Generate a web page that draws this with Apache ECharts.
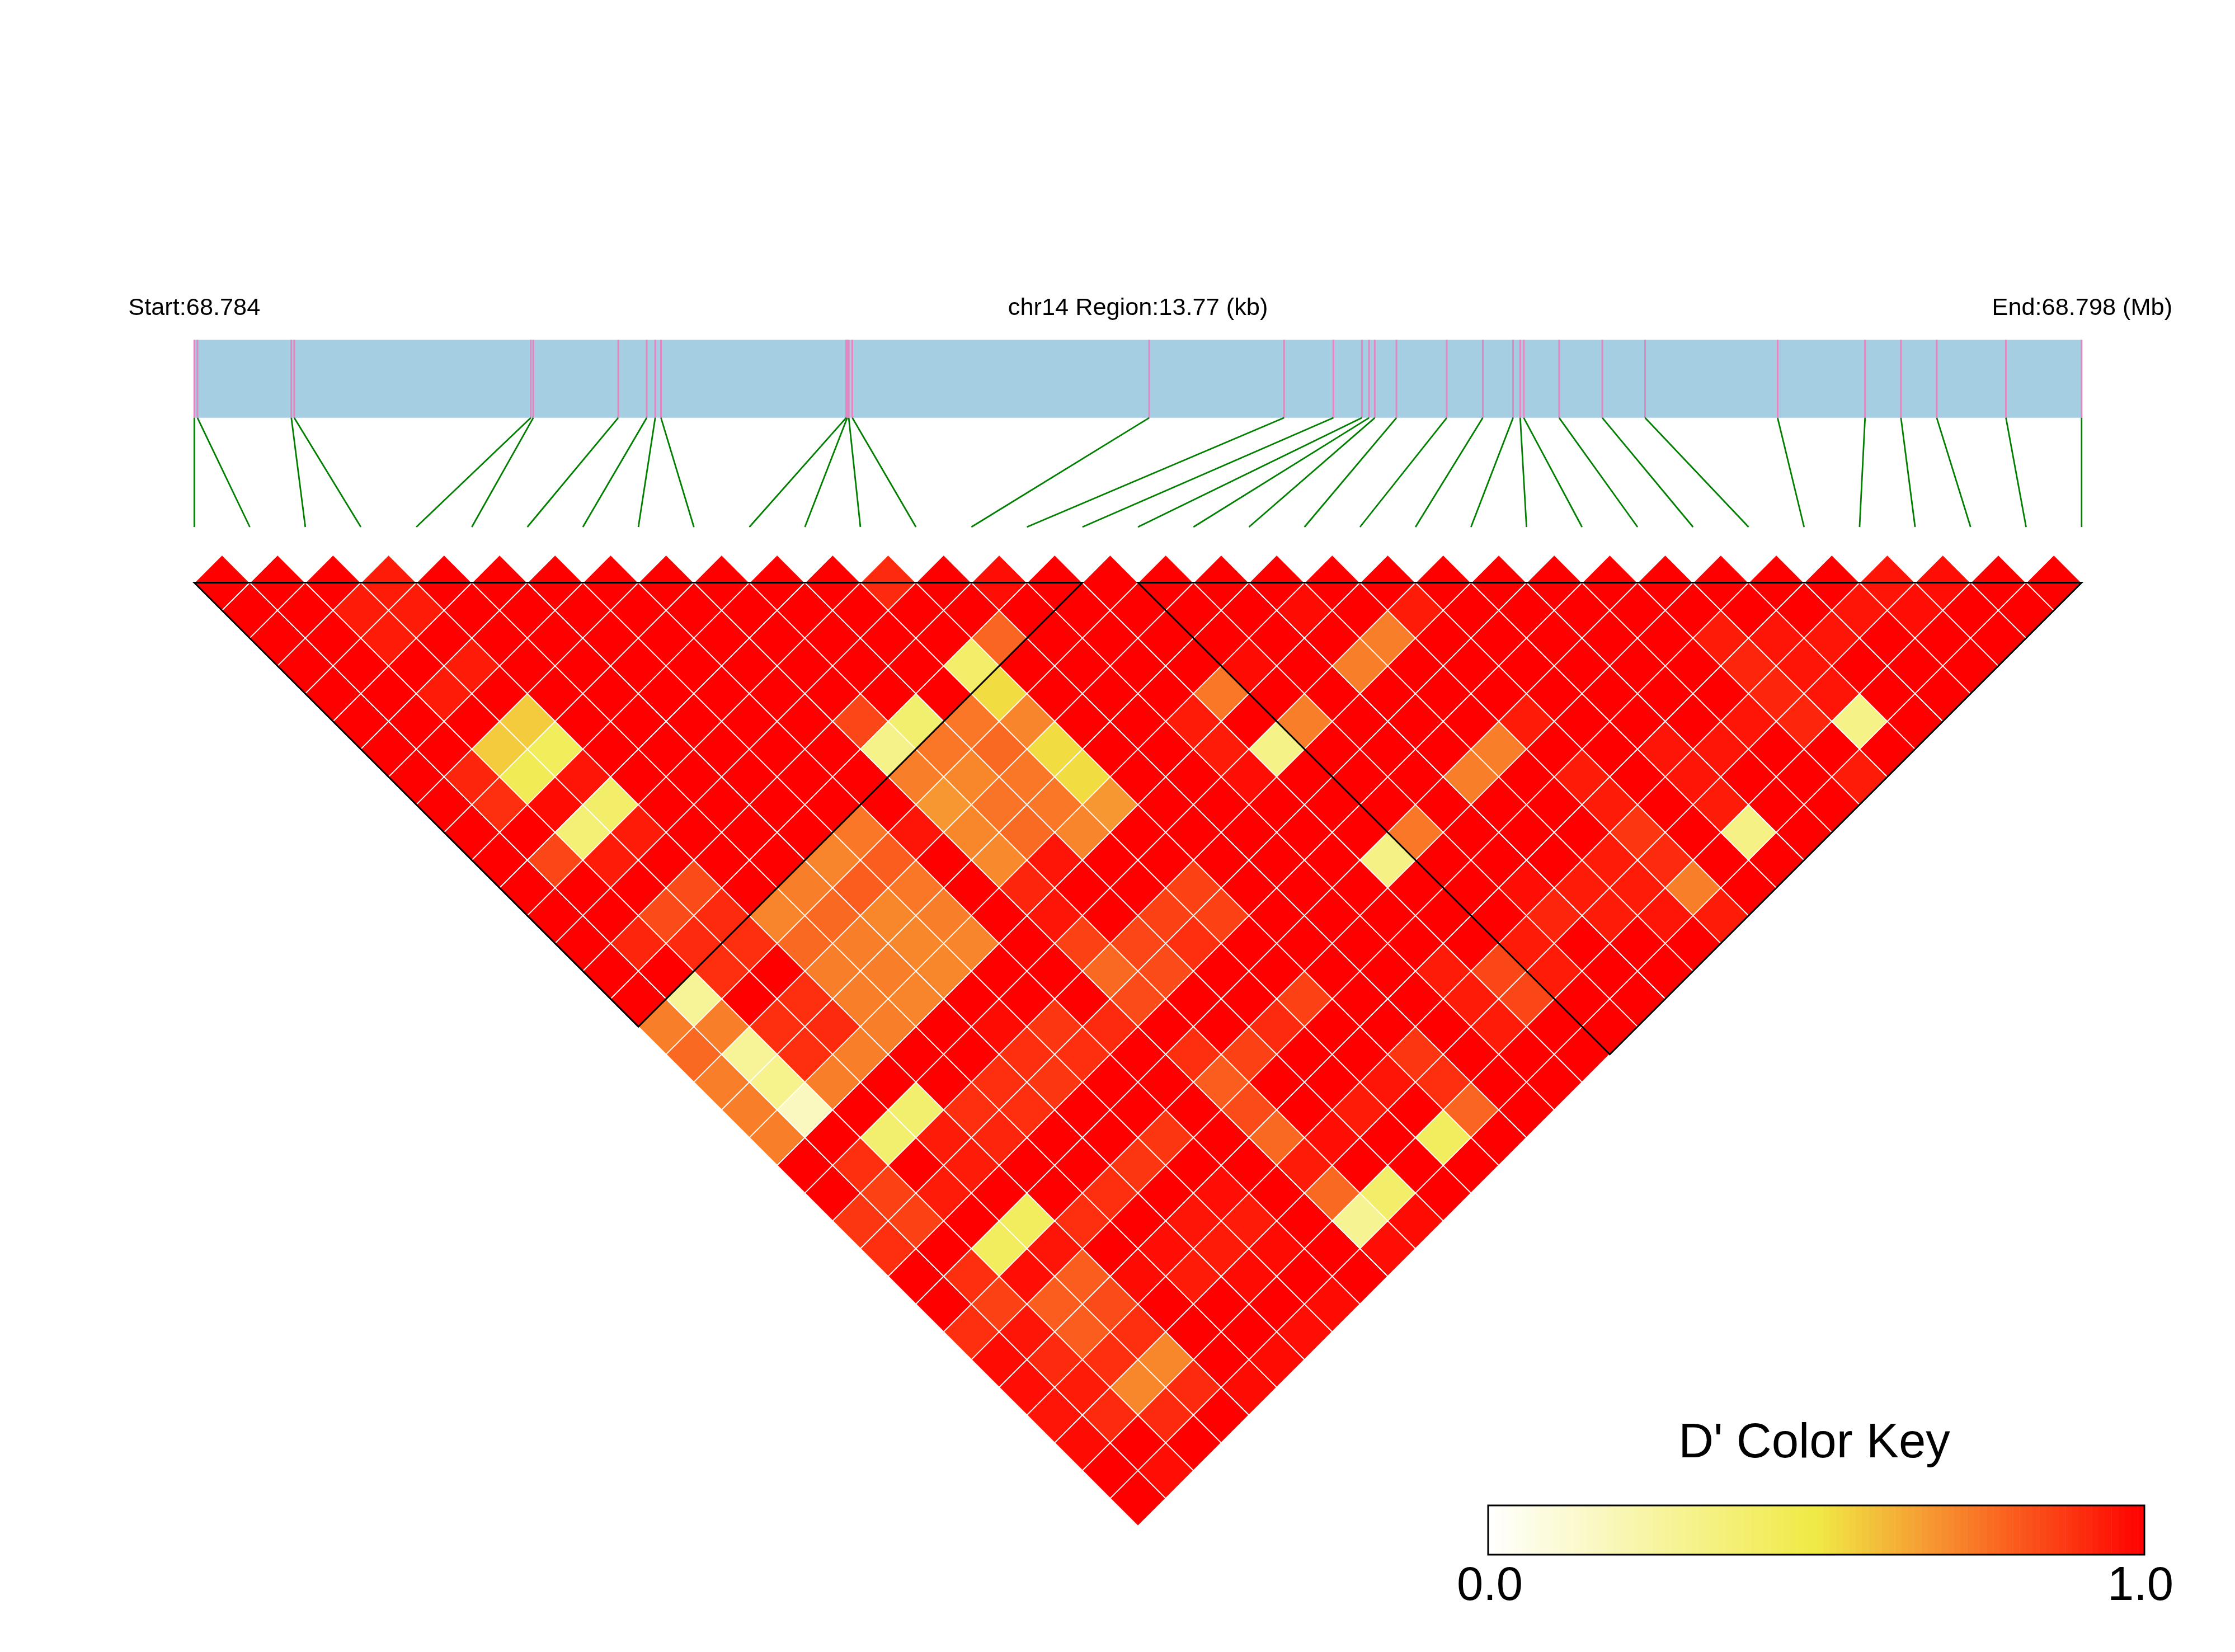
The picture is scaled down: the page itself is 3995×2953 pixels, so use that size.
<!DOCTYPE html>
<html><head><meta charset="utf-8">
<style>html,body{margin:0;padding:0;background:#fff}#c{width:3995px;height:2953px}</style>
<script src="https://cdn.jsdelivr.net/npm/echarts@6/dist/echarts.min.js"></script>
</head><body><div id="c"></div>
<script>
// SNP genomic offsets from region start, in kb
const snpKb = [0,0.023,0.708,0.729,2.455,2.473,3.093,3.301,3.363,3.405,4.756,4.764,4.775,4.801,6.967,7.951,8.311,8.519,8.571,8.613,8.771,9.138,9.401,9.622,9.674,9.700,9.958,10.273,10.585,11.552,12.190,12.452,12.713,13.218,13.77];
const regionKb = 13.77;
// LD blocks as [first SNP, last SNP]
const blocks = [[0,16],[17,34]];
// D' cells below 1.0 as [i+j, j-i-1, value]; every other pair reads as 1.0
const lowCells = [
[7,0,.94],[25,0,.91],[29,0,.97],[61,0,.955],[63,0,.97],
[6,1,.94],[8,1,.94],[40,1,.975],[44,1,.94],[60,1,.955],[62,1,.97],
[7,2,.94],[29,2,.78],[43,2,.73],[55,2,.94],[57,2,.955],[59,2,.955],
[10,3,.94],[28,3,.40],[38,3,.975],[42,3,.73],[56,3,.92],[58,3,.955],
[9,4,.94],[29,4,.53],[37,4,.745],[57,4,.92],[59,4,.955],
[12,5,.565],[24,5,.85],[26,5,.39],[28,5,.745],[30,5,.715],[36,5,.94],[40,5,.73],[48,5,.94],[56,5,.955],[58,5,.92],[60,5,.32],
[11,6,.565],[13,6,.44],[25,6,.315],[27,6,.745],[29,6,.775],[31,6,.53],[37,6,.94],[39,6,.32],[47,6,.73],[53,6,.955],[55,6,.955],
[10,7,.92],[12,7,.456],[14,7,.955],[26,7,.73],[28,7,.71],[30,7,.745],[32,7,.53],[38,7,.97],[46,7,.73],[50,7,.94],[54,7,.955],[60,7,.94],
[11,8,.90],[13,8,.975],[15,8,.40],[27,8,.675],[29,8,.75],[31,8,.745],[33,8,.675],[51,8,.94],[55,8,.94],
[14,9,.37],[16,9,.94],[24,9,.745],[26,9,.955],[28,9,.71],[30,9,.77],[32,9,.715],[44,9,.745],[52,9,.885],[56,9,.33],
[13,10,.85],[15,10,.94],[23,10,.715],[25,10,.80],[29,10,.705],[31,10,.955],[43,10,.33],[51,10,.94],[53,10,.91],
[18,11,.84],[22,11,.73],[24,11,.80],[26,11,.745],[30,11,.92],[36,11,.86],[48,11,.97],[50,11,.94],[52,11,.94],[54,11,.73],
[17,12,.84],[19,12,.91],[21,12,.715],[23,12,.775],[25,12,.71],[27,12,.73],[31,12,.955],[35,12,.86],[37,12,.86],[49,12,.92],[51,12,.94],[53,12,.955],[55,12,.94],
[16,13,.92],[18,13,.91],[20,13,.90],[22,13,.775],[24,13,.73],[26,13,.71],[28,13,.715],[32,13,.86],[34,13,.85],[36,13,.90],[48,13,.94],
[19,14,.90],[23,14,.73],[25,14,.73],[27,14,.71],[33,14,.775],[35,14,.84],[45,14,.94],[47,14,.85],[49,14,.94],
[18,15,.28],[22,15,.90],[24,15,.73],[26,15,.715],[34,15,.84],[40,15,.86],[46,15,.94],[48,15,.85],
[17,16,.73],[19,16,.73],[21,16,.90],[23,16,.91],[25,16,.73],[29,16,.975],[31,16,.885],[33,16,.91],[39,16,.91],[47,16,.94],
[18,17,.775],[20,17,.28],[22,17,.90],[24,17,.73],[30,17,.90],[32,17,.90],[36,17,.90],[38,17,.86],[44,17,.885],
[19,18,.73],[21,18,.31],[23,18,.73],[29,18,.90],[31,18,.885],[37,18,.80],[43,18,.955],[45,18,.90],
[20,19,.73],[22,19,.175],[26,19,.39],[28,19,.90],[30,19,.90],[38,19,.84],[42,19,.94],[46,19,.78],
[21,20,.73],[25,20,.39],[27,20,.94],[29,20,.92],[35,20,.885],[39,20,.775],[41,20,.97],[45,20,.43],
[24,21,.90],[28,21,.94],[34,21,.885],[40,21,.94],
[25,22,.86],[27,22,.94],[33,22,.90],[37,22,.97],[41,22,.775],[43,22,.40],
[24,23,.885],[26,23,.86],[30,23,.43],[32,23,.90],[36,23,.955],[38,23,.94],[42,23,.29],[44,23,.975],
[25,24,.90],[29,24,.43],[31,24,.955],[35,24,.97],[37,24,.94],[39,24,.975],[43,24,.97],
[28,25,.90],[30,25,.97],[32,25,.80],[34,25,.975],[36,25,.94],[38,25,.975],
[29,26,.86],[31,26,.80],[33,26,.84],[41,26,.975],
[28,27,.90],[30,27,.955],[32,27,.80],[34,27,.90],[40,27,.97],
[29,28,.975],[31,28,.91],[33,28,.90],[35,28,.71],[39,28,.975],
[30,29,.97],[32,29,.94],[34,29,.71],[36,29,.91],[38,29,.975],
[31,30,.955],[33,30,.91],[35,30,.91],
[32,31,.975],
[35,32,.97]
];
const keyTicks = [0, 1];
const keyTickLabels = ['0.0','1.0'];
const labels = { start:'Start:68.784', region:'chr14 Region:13.77 (kb)', end:'End:68.798 (Mb)', key:"D' Color Key" };

const rampStops = [[0,'#ffffff'],[0.5,'#f0ea45'],[0.68,'#f79530'],[1,'#ff0000']];
function rampColor(v){
  for(let k=1;k<rampStops.length;k++){
    if(v<=rampStops[k][0]){
      const a=rampStops[k-1],b=rampStops[k];
      return echarts.color.lerp((v-a[0])/(b[0]-a[0]),[a[1],b[1]]);
    }
  }
  return rampStops[rampStops.length-1][1];
}
const n = snpKb.length;
const lowMap = {};
lowCells.forEach(c=>{lowMap[c[0]+'_'+c[1]]=c[2];});
const cells = [];
for(let i=0;i<n;i++)for(let j=i+1;j<n;j++){
  const m=i+j,d=j-i-1,v=lowMap[m+'_'+d];
  cells.push([m/2,d,v===undefined?1:v]);
}
const keyLevels = Array.from({length:100},(_,k)=>k/100);

const F='"Liberation Sans",Arial,sans-serif';
const L=347.3,W=3373.5,Y0=1041.5,H=49.6;
const chart=echarts.init(document.getElementById('c'),null,{renderer:'canvas',width:3995,height:2953});
const hiddenX=(g,min,max)=>({type:'value',gridIndex:g,min,max,show:false});
const hiddenY=(g,min,max)=>({type:'value',gridIndex:g,min,max,inverse:true,show:false});
const bandBottom=0.4165;

chart.setOption({
  animation:false,backgroundColor:'#ffffff',
  grid:[
    {left:L,width:W,top:Y0-H,height:35*H},
    {left:L,width:W,top:607.5,height:334.5},
    {left:2660,width:1173,top:2691,height:88}
  ],
  xAxis:[hiddenX(0,0,34),hiddenX(1,0,regionKb),hiddenX(2,0,1)],
  yAxis:[hiddenY(0,-1,34),hiddenY(1,0,1),hiddenY(2,0,1)],
  graphic:[
    {type:'text',x:L,y:551,style:{text:labels.start,fill:'#000',font:'43.3px '+F,align:'center',verticalAlign:'middle'}},
    {type:'text',x:L+W/2,y:551,style:{text:labels.region,fill:'#000',font:'43.3px '+F,align:'center',verticalAlign:'middle'}},
    {type:'text',x:L+W+1,y:551,style:{text:labels.end,fill:'#000',font:'43.3px '+F,align:'center',verticalAlign:'middle'}},
    {type:'text',x:3243,y:2581,style:{text:labels.key,fill:'#000',font:'87px '+F,align:'center',verticalAlign:'middle'}},
    {type:'text',x:2663,y:2837,style:{text:keyTickLabels[0],fill:'#000',font:'85px '+F,align:'center',verticalAlign:'middle'}},
    {type:'text',x:3826,y:2837,style:{text:keyTickLabels[1],fill:'#000',font:'85px '+F,align:'center',verticalAlign:'middle'}}
  ],
  series:[
    {type:'custom',name:'track',coordinateSystem:'cartesian2d',xAxisIndex:1,yAxisIndex:1,clip:false,silent:true,
     data:[[0,regionKb]],encode:{x:[0,1]},
     renderItem:(p,api)=>{
       const a=api.coord([api.value(0),0]),b=api.coord([api.value(1),bandBottom]);
       return {type:'rect',shape:{x:a[0],y:a[1],width:b[0]-a[0],height:b[1]-a[1]},style:{fill:'#a6cee3'}};
     }},
    {type:'custom',name:'snp ticks',coordinateSystem:'cartesian2d',xAxisIndex:1,yAxisIndex:1,clip:false,silent:true,z:3,
     data:snpKb.map(k=>[k]),encode:{x:0},
     renderItem:(p,api)=>{
       const a=api.coord([api.value(0),0]),b=api.coord([api.value(0),bandBottom]);
       return {type:'line',shape:{x1:a[0],y1:a[1],x2:b[0],y2:b[1]},style:{stroke:'#e387c0',lineWidth:3}};
     }},
    {type:'custom',name:'connectors',coordinateSystem:'cartesian2d',xAxisIndex:1,yAxisIndex:1,clip:false,silent:true,z:3,
     data:snpKb.map((k,i)=>[k,i]),encode:{x:0},
     renderItem:(p,api)=>{
       const a=api.coord([api.value(0),bandBottom]),b=api.coord([api.value(1)*regionKb/(n-1),1]);
       return {type:'line',shape:{x1:a[0],y1:a[1],x2:b[0],y2:b[1]},style:{stroke:'#007f00',lineWidth:2.8}};
     }},
    {type:'custom',name:"D'",coordinateSystem:'cartesian2d',xAxisIndex:0,yAxisIndex:0,clip:false,silent:true,z:4,
     data:cells,encode:{x:0,y:1},
     renderItem:(p,api)=>{
       const x=api.value(0),d=api.value(1),v=api.value(2);
       return {type:'polygon',shape:{points:[api.coord([x-.5,d]),api.coord([x,d-1]),api.coord([x+.5,d]),api.coord([x,d+1])]},
         style:{fill:rampColor(v),stroke:'#ffffff',lineWidth:1.8}};
     }},
    {type:'custom',name:'blocks',coordinateSystem:'cartesian2d',xAxisIndex:0,yAxisIndex:0,clip:false,silent:true,z:5,
     data:blocks,encode:{x:[0,1]},
     renderItem:(p,api)=>{
       const i=api.value(0),j=api.value(1);
       return {type:'polygon',shape:{points:[api.coord([i,0]),api.coord([j,0]),api.coord([(i+j)/2,j-i])]},
         style:{fill:'none',stroke:'#000000',lineWidth:3}};
     }},
    {type:'custom',name:'key',coordinateSystem:'cartesian2d',xAxisIndex:2,yAxisIndex:2,clip:false,silent:true,z:3,
     data:keyLevels.map(v=>[v]),encode:{x:0},
     renderItem:(p,api)=>{
       const v=api.value(0),a=api.coord([v,0]),b=api.coord([v+0.01,1]);
       return {type:'rect',shape:{x:a[0],y:a[1],width:b[0]-a[0]+0.5,height:b[1]-a[1]},style:{fill:rampColor(v+0.005)}};
     }},
    {type:'custom',name:'key frame',coordinateSystem:'cartesian2d',xAxisIndex:2,yAxisIndex:2,clip:false,silent:true,z:4,
     data:[keyTicks],encode:{x:[0,1]},
     renderItem:(p,api)=>{
       const a=api.coord([api.value(0),0]),b=api.coord([api.value(1),1]);
       return {type:'rect',shape:{x:a[0],y:a[1],width:b[0]-a[0],height:b[1]-a[1]},style:{fill:'none',stroke:'#000',lineWidth:3}};
     }}
  ]
});
</script></body></html>
